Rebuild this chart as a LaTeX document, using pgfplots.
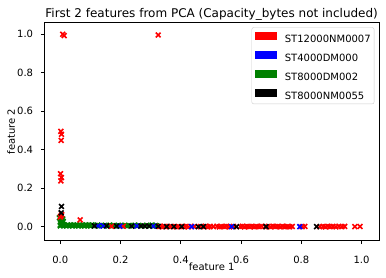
\documentclass[border=0pt]{standalone}
\usepackage{fontspec}
\setmainfont{DejaVu Sans}
\usepackage{pgfplots}
\pgfplotsset{compat=1.18}
\definecolor{mplgreen}{rgb}{0,0.5,0}
\begin{document}
\begin{tikzpicture}[font=\fontsize{10bp}{12bp}\selectfont]
\useasboundingbox (-44.3bp,-37.3bp) rectangle (341.7bp,240.7bp);
\begin{axis}[
  at={(0,0)}, anchor=south west,
  scale only axis, width=334.7bp, height=218.4bp,
  xmin=-0.053, xmax=1.058, ymin=-0.073, ymax=1.062,
  xtick={0,0.2,0.4,0.6,0.8,1.0}, ytick={0,0.2,0.4,0.6,0.8,1.0},
  xtick pos=bottom, ytick pos=left,
  tick align=outside, major tick length=3.5bp,
  tick style={black, line width=0.8bp},
  axis line style={black, line width=0.8bp},
  /pgf/number format/assume math mode=true,
  xticklabel={\pgfmathprintnumber[fixed,precision=1,zerofill]{\tick}},
  yticklabel={\pgfmathprintnumber[fixed,precision=1,zerofill]{\tick}},
  xticklabel style={inner sep=0pt, anchor=north, yshift=-12bp},
  yticklabel style={inner sep=0pt, anchor=east, xshift=-7.5bp},
  title={First 2 features from PCA (Capacity\_bytes not included)},
  every axis title/.style={font=\fontsize{12bp}{14bp}\selectfont, at={(axis description cs:0.5,1)}, anchor=base, inner sep=0pt, yshift=5.2bp},
  xlabel={feature 1},
  every axis x label/.style={at={(axis description cs:0.5,0)}, anchor=base, inner sep=0pt, yshift=-29.3bp},
  ylabel={feature 2},
  every axis y label/.style={at={(axis description cs:0,0.5)}, rotate=90, anchor=base, inner sep=0pt, yshift=29.3bp},
  legend style={at={(axis description cs:0.986,0.977)}, anchor=north east,
    draw=black!20, rounded corners=2bp, inner xsep=3.4bp, inner ysep=4.5bp,
    font=\fontsize{10bp}{12bp}\selectfont,
    nodes={inner sep=0pt, text height=7.3bp, text depth=0bp},
    row sep=8bp},
  legend cell align=left,
  /tikz/every odd column/.append style={column sep=8.3bp},
]
\addlegendimage{legend image code/.code={\fill[red, sharp corners] (0bp,0bp) rectangle (21bp,7bp);}}
\addlegendentry{ST12000NM0007}
\addlegendimage{legend image code/.code={\fill[blue, sharp corners] (0bp,0bp) rectangle (21bp,7bp);}}
\addlegendentry{ST4000DM000}
\addlegendimage{legend image code/.code={\fill[mplgreen, sharp corners] (0bp,0bp) rectangle (21bp,7bp);}}
\addlegendentry{ST8000DM002}
\addlegendimage{legend image code/.code={\fill[black, sharp corners] (0bp,0bp) rectangle (21bp,7bp);}}
\addlegendentry{ST8000NM0055}

% ST8000DM002 (green)
\addplot[only marks, mark=x, mark size=3.4bp, line width=1.6bp, color=mplgreen, forget plot] coordinates {
(-0.003,0.046) (0.003,0.044) (0.008,0.040) (0.001,0.036) (0.006,0.031) (0.010,0.027) (0.002,0.022) (0.007,0.018) (0.004,0.014) (0.009,0.011) (0.000,0.008)
(0.000,0.004) (0.005,0.009) (0.010,0.005) (0.015,0.008) (0.020,0.004) (0.025,0.009) (0.030,0.005) (0.035,0.008) (0.040,0.004) (0.045,0.009) (0.050,0.005) (0.055,0.008) (0.060,0.004) (0.065,0.009) (0.070,0.005) (0.075,0.008) (0.080,0.004) (0.085,0.009) (0.090,0.005) (0.095,0.008) (0.100,0.004) (0.105,0.009) (0.110,0.006)
(0.118,0.005) (0.124,0.008) (0.131,0.005) (0.137,0.007) (0.148,0.006) (0.160,0.005) (0.165,0.008) (0.176,0.006) (0.182,0.004) (0.193,0.007) (0.203,0.005) (0.214,0.007) (0.220,0.004) (0.228,0.006) (0.243,0.005) (0.248,0.008) (0.260,0.006) (0.274,0.005) (0.287,0.007) (0.300,0.005) (0.305,0.008) (0.316,0.006) (0.320,0.004)
};
% ST12000NM0007 (red)
\addplot[only marks, mark=x, mark size=3.4bp, line width=1.6bp, color=red, forget plot] coordinates {
(0.008,1.000) (0.013,0.993) (0.325,0.996)
(0.002,0.495) (0.004,0.480) (0.003,0.448) (0.001,0.275) (0.004,0.255) (0.002,0.238)
(0.002,0.055) (0.005,0.062) (0.000,0.050) (0.066,0.035)
(0.170,0.002) (0.209,0.002) (0.330,0.001) (0.338,-0.001) (0.345,0.002) (0.362,0.000) (0.368,0.002) (0.385,-0.001) (0.392,0.001) (0.410,0.000) (0.418,0.002) (0.425,-0.001) (0.445,0.001) (0.465,0.000) (0.482,0.002) (0.490,-0.001) (0.498,0.001) (0.508,0.000) (0.520,0.002) (0.528,-0.001) (0.535,0.001) (0.545,0.000) (0.552,0.002) (0.562,-0.001) (0.575,0.001) (0.598,0.000) (0.605,0.002) (0.612,-0.001) (0.620,0.001) (0.628,0.000) (0.636,0.002) (0.644,-0.001) (0.652,0.001) (0.660,0.000) (0.668,0.002) (0.680,0.000) (0.690,0.001) (0.698,-0.001) (0.706,0.002) (0.714,0.000) (0.722,0.001) (0.730,-0.001) (0.738,0.002) (0.746,0.000) (0.754,0.001) (0.762,-0.001) (0.770,0.001) (0.803,0.000) (0.812,0.001) (0.862,0.000) (0.872,0.001) (0.880,-0.001) (0.888,0.002) (0.896,0.000) (0.905,0.001) (0.915,-0.001) (0.925,0.002) (0.935,0.000) (0.944,0.001) (0.978,0.000) (0.995,0.001)
};
% ST4000DM000 (blue)
\addplot[only marks, mark=x, mark size=3.4bp, line width=1.6bp, color=blue, forget plot] coordinates {
(0.126,0.004) (0.143,0.004) (0.198,0.003) (0.254,0.003) (0.309,0.003) (0.436,0.000) (0.569,0.000) (0.795,0.000)
};
% ST8000NM0055 (black)
\addplot[only marks, mark=x, mark size=3.4bp, line width=1.6bp, color=black, forget plot] coordinates {
(0.004,0.105) (0.003,0.072) (0.113,0.004) (0.154,0.004) (0.187,0.003) (0.237,0.003) (0.268,0.003) (0.281,0.003) (0.295,0.003) (0.325,0.002) (0.353,0.000) (0.377,0.000) (0.403,0.000) (0.458,0.000) (0.475,0.000) (0.585,0.000) (0.683,0.000) (0.851,0.000)
};
\end{axis}
\end{tikzpicture}
\end{document}
